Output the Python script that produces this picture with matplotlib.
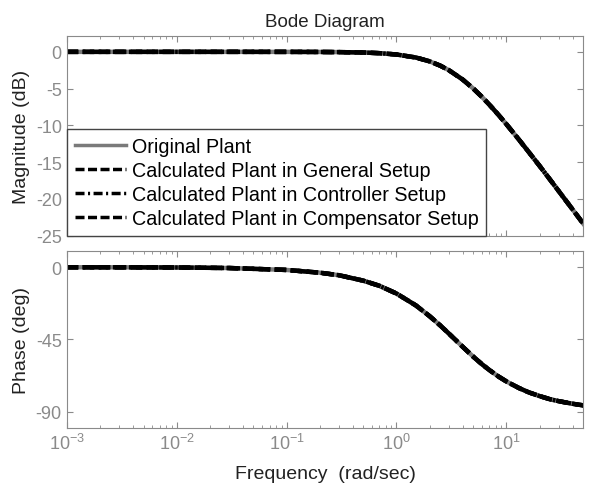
import numpy as np
import matplotlib
matplotlib.use("Agg")
import matplotlib.pyplot as plt
from matplotlib.ticker import LogLocator, NullFormatter

plt.rcParams['font.family'] = ['Liberation Sans', 'DejaVu Sans']
plt.rcParams['axes.unicode_minus'] = False

# values (frequency in rad/sec)
freq = [0.001, 0.003, 0.01, 0.03, 0.1, 0.2, 0.3, 0.5, 0.7, 1.0, 1.5, 2.0, 2.5,
        3.0, 4.0, 5.0, 6.0, 7.0, 8.5, 10.0, 13.0, 16.0, 20.0, 25.0, 30.0, 40.0, 50.0]
mag_db = [0.0, 0.0, 0.0, 0.0, -0.004, -0.015, -0.034, -0.09, -0.18, -0.36, -0.77,
          -1.29, -1.88, -2.5, -3.77, -5.0, -6.14, -7.19, -8.6, -9.85, -11.94,
          -13.65, -15.5, -17.4, -18.97, -21.44, -23.37]
phase_deg = [-0.02, -0.05, -0.17, -0.5, -1.7, -3.4, -5.0, -8.4, -11.6, -16.4,
             -23.8, -30.5, -36.3, -41.4, -49.6, -55.8, -60.5, -64.1, -68.2,
             -71.2, -75.3, -78.0, -80.3, -82.3, -83.5, -85.1, -86.1]

labels = ['Original Plant',
          'Calculated Plant in General Setup',
          'Calculated Plant in Controller Setup',
          'Calculated Plant in Compensator Setup']
styles = [dict(color='#7a7a7a', ls='-'),
          dict(color='black', ls=(0, (2.6, 1.0))),
          dict(color='black', ls=(0, (2.6, 1.0, 0.6, 1.0))),
          dict(color='black', ls=(0, (2.6, 1.0)))]

fig = plt.figure(figsize=(5.89, 4.89), dpi=100)
ax1 = fig.add_axes([0.1132, 0.516, 0.8771, 0.409])
ax2 = fig.add_axes([0.1132, 0.1227, 0.8771, 0.3626])

for lab, st in zip(labels, styles):
    ax1.semilogx(freq, mag_db, lw=3.2, label=lab, **st)
    ax2.semilogx(freq, phase_deg, lw=3.2, **st)

gray = '#8a8a8a'
for ax in (ax1, ax2):
    ax.set_xlim(1e-3, 50)
    ax.xaxis.set_major_locator(LogLocator(base=10, numticks=10))
    ax.xaxis.set_minor_locator(LogLocator(base=10, subs=np.arange(2, 10), numticks=10))
    ax.xaxis.set_minor_formatter(NullFormatter())
    ax.tick_params(which='both', direction='in', top=True, right=True,
                   colors=gray, labelcolor=gray, labelsize=13)
    ax.tick_params(which='major', length=4)
    ax.tick_params(which='minor', length=2.5)
    for sp in ax.spines.values():
        sp.set_color(gray)

ax1.set_ylim(-25, 2.2)
ax1.set_yticks([0, -5, -10, -15, -20, -25])
ax1.set_xticklabels([])
ax1.set_ylabel('Magnitude (dB)', fontsize=14, color='#222222')
ax1.set_title('Bode Diagram', fontsize=13.5, color='#222222', pad=7)

ax2.set_ylim(-100.2, 10.3)
ax2.set_yticks([0, -45, -90])
ax2.set_ylabel('Phase (deg)', fontsize=14, color='#222222')
ax2.set_xlabel('Frequency  (rad/sec)', fontsize=14, color='#222222', labelpad=9)

leg = ax1.legend(loc='lower left', borderaxespad=0, fancybox=False, framealpha=1,
                 fontsize=14.2, handlelength=2.6, handletextpad=0.3,
                 labelspacing=0.25, borderpad=0.4)
leg.get_frame().set_edgecolor('#444444')
leg.get_frame().set_linewidth(1.0)
for line in leg.get_lines():
    line.set_linewidth(2.5)

fig.savefig('out.png', dpi=100)
